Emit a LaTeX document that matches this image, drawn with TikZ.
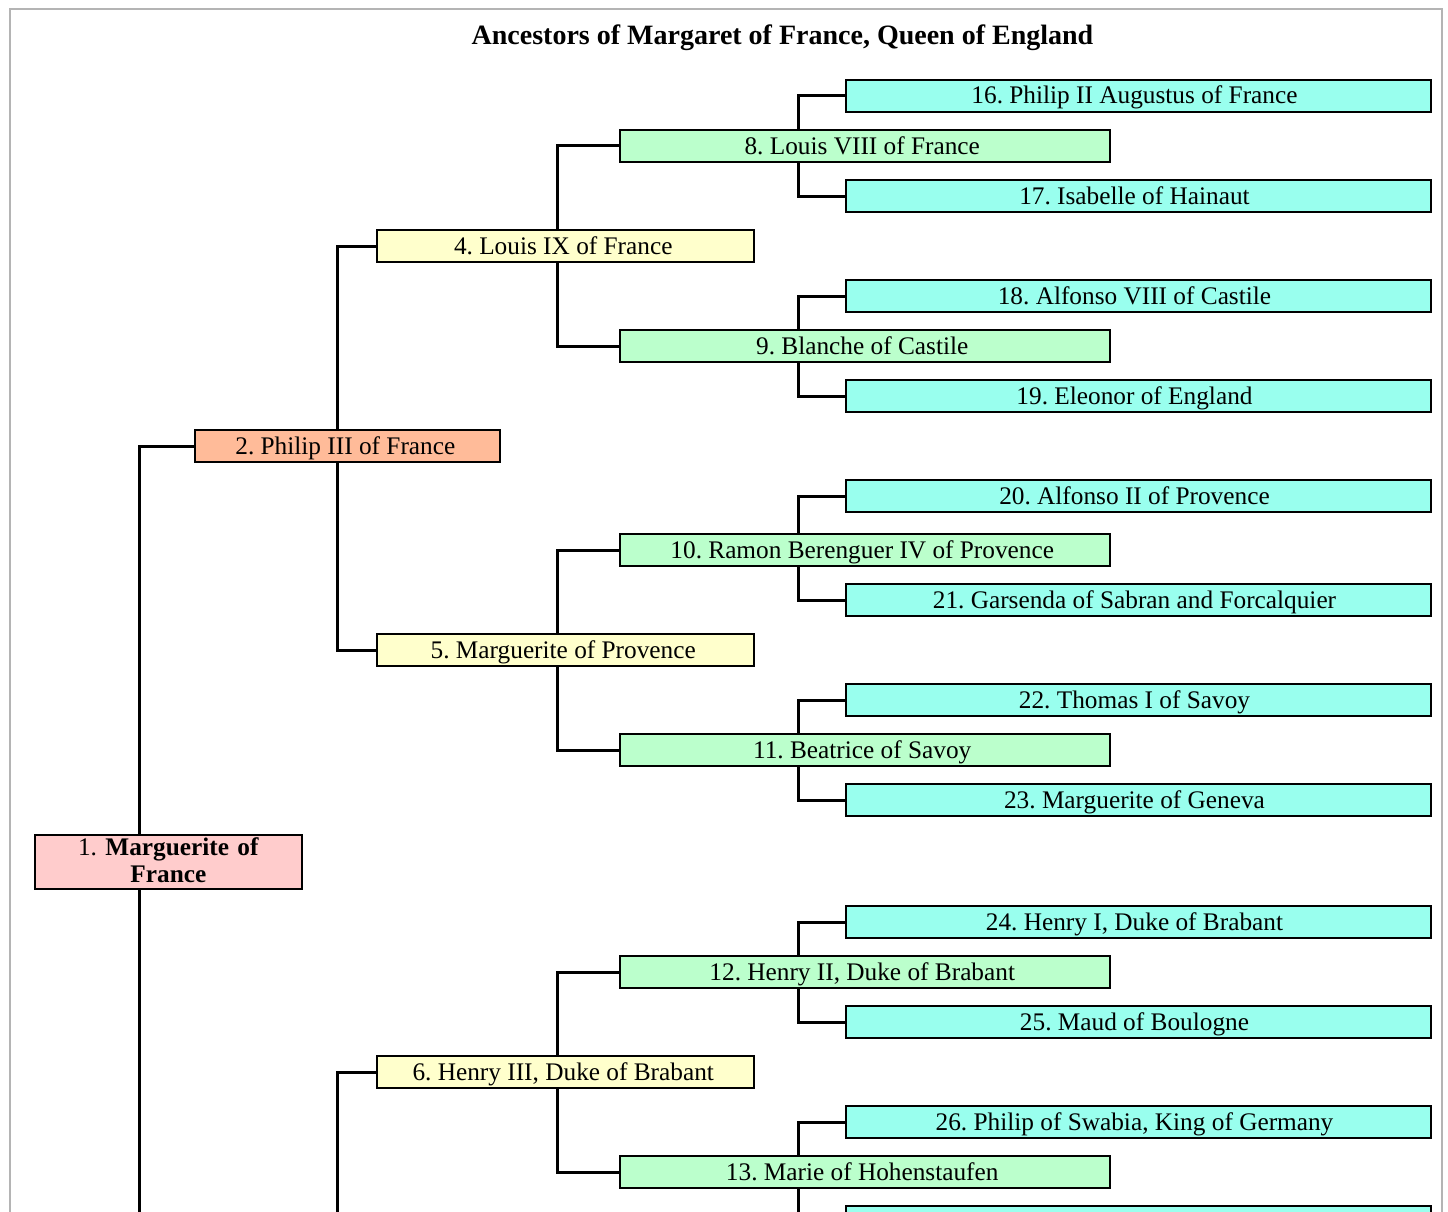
\documentclass[tikz,border=0pt]{standalone}
\usepackage{fontspec}
\setmainfont{Liberation Serif}
\frenchspacing
\usetikzlibrary{backgrounds}
\definecolor{cA}{HTML}{FFCCCC}
\definecolor{cB}{HTML}{FFBB99}
\definecolor{cC}{HTML}{FFFFCC}
\definecolor{cD}{HTML}{BBFFCC}
\definecolor{cE}{HTML}{99FFEE}
\definecolor{framegray}{HTML}{B4B4B4}
\tikzset{
  abox/.style={draw=black, line width=2pt, inner sep=0pt, minimum height=32pt,
    text height=24pt, text depth=8pt, font=\frenchspacing\fontsize{25.3}{26.7}\selectfont, anchor=center},
  tshift/.style={execute at begin node={\hspace*{#1}}},
  gE/.style={abox, fill=cE, minimum width=585pt, tshift=-8pt},
  gD/.style={abox, fill=cD, minimum width=490.5pt, tshift=-5pt},
  gC/.style={abox, fill=cC, minimum width=376.5pt, tshift=-4pt},
  gB/.style={abox, fill=cB, minimum width=305.3pt, tshift=-4pt},
  gA/.style={abox, fill=cA, minimum width=267.3pt, minimum height=54pt,
    text width=262pt, align=center, text height=21pt, text depth=33pt},
  conn/.style={line width=3pt}
}
\begin{document}
\begin{tikzpicture}[x=1pt,y=-1pt]
\useasboundingbox (0,0) rectangle (1448,1212);
\clip (0,0) rectangle (1448,1212);
\draw[framegray, line width=2pt] (9.5,1240) |- (1441.5,9.5) -- (1441.5,1240);

\node[font=\bfseries\fontsize{28}{30}\selectfont, anchor=base] (title) at (782.5,44.5)
  {Ancestors of Margaret of France, Queen of England};

% vertical connector positions
\coordinate (v1) at (139,0);
\coordinate (v2) at (337,0);
\coordinate (v3) at (557.3,0);
\coordinate (v4) at (798,0);
\coordinate (off1) at (139,1240);
\coordinate (off2) at (337,1240);

% generation 5
\node[gE] (n16) at (1138.5,96)  {16. Philip II Augustus of France};
\node[gE] (n17) at (1138.5,196) {17. Isabelle of Hainaut};
\node[gE] (n18) at (1138.5,296) {18. Alfonso VIII of Castile};
\node[gE] (n19) at (1138.5,396) {19. Eleonor of England};
\node[gE] (n20) at (1138.5,496) {20. Alfonso II of Provence};
\node[gE] (n21) at (1138.5,600) {21. Garsenda of Sabran and Forcalquier};
\node[gE] (n22) at (1138.5,700) {22. Thomas I of Savoy};
\node[gE] (n23) at (1138.5,800) {23. Marguerite of Geneva};
\node[gE] (n24) at (1138.5,922) {24. Henry I, Duke of Brabant};
\node[gE] (n25) at (1138.5,1022) {25. Maud of Boulogne};
\node[gE] (n26) at (1138.5,1122) {26. Philip of Swabia, King of Germany};
\node[abox, fill=cE, minimum width=585pt] (n27) at (1138.5,1222) {};

% generation 4
\node[gD] (n8)  at (864.75,146)  {8. Louis VIII of France};
\node[gD] (n9)  at (864.75,346)  {9. Blanche of Castile};
\node[gD] (n10) at (864.75,550)  {10. Ramon Berenguer IV of Provence};
\node[gD] (n11) at (864.75,750)  {11. Beatrice of Savoy};
\node[gD] (n12) at (864.75,972)  {12. Henry II, Duke of Brabant};
\node[gD] (n13) at (864.75,1172) {13. Marie of Hohenstaufen};

% generation 3
\node[gC] (n4) at (565.25,246)  {4. Louis IX of France};
\node[gC] (n5) at (565.25,650)  {5. Marguerite of Provence};
\node[gC] (n6) at (565.25,1072) {6. Henry III, Duke of Brabant};

% generation 2
\node[gB] (n2) at (347.35,446) {2. Philip III of France};

% generation 1
\node[gA] (n1) at (168.4,861.5) {1. \textbf{Marguerite of}\\\textbf{France}};

\begin{scope}[on background layer]
\draw[conn] (n16.west) -| (n8.north -| v4);
\draw[conn] (n17.west) -| (n8.south -| v4);
\draw[conn] (n18.west) -| (n9.north -| v4);
\draw[conn] (n19.west) -| (n9.south -| v4);
\draw[conn] (n20.west) -| (n10.north -| v4);
\draw[conn] (n21.west) -| (n10.south -| v4);
\draw[conn] (n22.west) -| (n11.north -| v4);
\draw[conn] (n23.west) -| (n11.south -| v4);
\draw[conn] (n24.west) -| (n12.north -| v4);
\draw[conn] (n25.west) -| (n12.south -| v4);
\draw[conn] (n26.west) -| (n13.north -| v4);
\draw[conn] (n27.west) -| (n13.south -| v4);

\draw[conn] (n8.west) -| (n4.north -| v3);
\draw[conn] (n9.west) -| (n4.south -| v3);
\draw[conn] (n10.west) -| (n5.north -| v3);
\draw[conn] (n11.west) -| (n5.south -| v3);
\draw[conn] (n12.west) -| (n6.north -| v3);
\draw[conn] (n13.west) -| (n6.south -| v3);

\draw[conn] (n4.west) -| (n2.north -| v2);
\draw[conn] (n5.west) -| (n2.south -| v2);
\draw[conn] (n6.west) -| (off2);

\draw[conn] (n2.west) -| (n1.north -| v1);
\draw[conn] (n1.south -| v1) -- (off1);
\end{scope}
\end{tikzpicture}
\end{document}
